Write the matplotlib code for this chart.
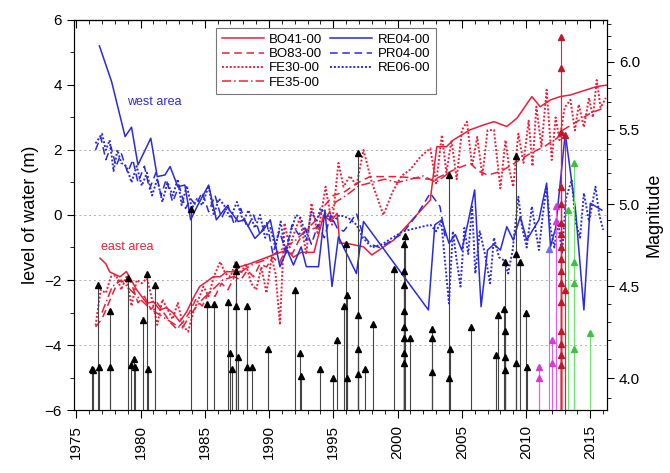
import matplotlib
matplotlib.use("Agg")
import matplotlib.pyplot as plt
from matplotlib.ticker import MultipleLocator, FixedLocator, NullFormatter, FixedFormatter
import numpy as np

plt.rcParams['font.family'] = ['Liberation Sans', 'DejaVu Sans']

RED = '#e8203c'
BLUE = '#2b2bd9'

# ---------------- water level series ----------------
bo41_years = [1976.85, 1977.3, 1977.6, 1978.4, 1978.9, 1979.7, 1980.5, 1981.0, 1981.5, 1982.0, 1982.5,
              1983.05, 1983.6, 1984.1, 1984.6, 1985.15, 1985.65, 1986.2, 1986.7, 1987.2, 1987.75, 1988.5,
              1989.3, 1990.3, 1991.4, 1991.9, 1992.5, 1993.5, 1994.25, 1994.8, 1995.3, 1995.5, 1996.05,
              1997.35, 1998.0, 1999.7, 2002.55, 2003.05, 2003.8, 2004.35, 2005.65, 2006.7, 2007.5, 2008.5,
              2009.3, 2010.45, 2011.1, 2011.9, 2012.65, 2013.45, 2015.5, 2016.4]
bo41_vals = [-1.33, -1.5, -1.75, -1.9, -1.74, -2.3, -2.72, -2.66, -2.92, -2.85, -3.0,
             -3.28, -2.97, -2.56, -2.2, -2.05, -1.9, -1.9, -1.74, -1.75, -1.59, -1.5,
             -1.38, -1.23, -1.08, -1.3, -1.15, -1.15, 0.0, -0.2, 0.05, -0.87, -0.87,
             -0.98, -1.23, -0.77, 0.46, 2.1, 2.1, 2.31, 2.62, 2.77, 2.87, 2.72,
             2.98, 3.64, 3.33, 3.54, 3.64, 3.69, 3.95, 4.0]

bo83_years = [1976.5, 1977.0, 1977.9, 1978.3, 1978.7, 1979.2, 1979.8, 1980.3, 1980.8, 1981.3, 1981.8,
              1982.3, 1982.8, 1983.3, 1983.8, 1984.3, 1984.8, 1985.3, 1985.8, 1986.3, 1986.8, 1987.3,
              1987.8, 1988.3, 1988.8, 1989.3, 1989.8, 1990.3, 1990.8, 1991.3, 1991.8, 1992.3, 1992.8,
              1993.3, 1993.8, 1994.35, 1995.0, 1995.9, 1996.8, 1997.85, 1999.9, 2001.75, 2002.8, 2004.35,
              2005.65, 2006.3, 2007.0, 2008.0, 2009.3, 2010.35, 2011.4, 2012.4, 2012.9, 2013.95, 2015.0,
              2016.0]
bo83_vals = [-3.44, -3.2, -2.36, -2.0, -2.1, -2.0, -2.7, -2.5, -2.9, -2.7, -3.0,
             -3.3, -3.5, -3.3, -3.0, -2.6, -2.8, -2.4, -2.5, -2.1, -2.3, -1.9,
             -2.0, -1.7, -1.9, -1.5, -1.6, -1.3, -1.5, -1.0, -1.2, -0.8, -0.5,
             -0.3, -0.1, 0.3, 0.6, 0.72, 0.97, 1.18, 1.18, 1.13, 1.08, 1.38,
             1.59, 1.35, 1.23, 1.33, 1.64, 1.9, 2.1, 2.36, 2.62, 2.87, 3.13,
             3.28]

fe30_years = [1976.5, 1976.9, 1977.3, 1977.7, 1978.1, 1978.5, 1978.9, 1979.3, 1979.7, 1980.1, 1980.5,
              1980.9, 1981.3, 1981.7, 1982.1, 1982.5, 1982.9, 1983.3, 1983.7, 1984.1, 1984.5, 1984.9,
              1985.3, 1985.7, 1986.2, 1986.6, 1987.0, 1987.4, 1987.8, 1988.2, 1988.6, 1989.0, 1989.4,
              1989.8, 1990.2, 1990.5, 1990.85, 1991.2, 1991.6, 1992.0, 1992.4, 1992.9, 1993.3, 1993.8,
              1994.4, 1994.9, 1995.4, 1995.8, 1996.3, 1996.8, 1997.35, 1998.0, 1998.9, 1999.6, 2000.3,
              2001.0, 2001.8, 2002.55, 2003.0, 2003.45, 2003.8, 2004.2, 2004.6, 2005.0, 2005.4, 2005.8,
              2006.2, 2006.6, 2007.0, 2007.5, 2008.0, 2008.4, 2008.7, 2009.0, 2009.4, 2009.8, 2010.2,
              2010.5, 2010.8, 2011.2, 2011.6, 2012.0, 2012.3, 2012.6, 2013.0, 2013.45, 2013.8, 2014.1,
              2014.5, 2014.9, 2015.2, 2015.5, 2015.8, 2016.2]
fe30_vals = [-3.4, -2.3, -2.4, -1.9, -1.85, -2.3, -1.9, -2.8, -2.0, -2.1, -1.95,
             -2.6, -3.38, -2.6, -2.9, -3.2, -2.7, -3.4, -3.59, -3.0, -2.6, -2.2,
             -2.5, -1.9, -1.44, -1.8, -1.9, -1.44, -1.8, -1.5, -2.1, -2.3, -1.6,
             -2.4, -1.3, -1.8, -3.38, -0.25, -1.0, -0.5, -0.1, -1.2, 0.36, -0.6,
             0.87, -0.3, 1.6, 0.87, 1.2, 0.9, 2.0, 1.0, 0.0, 0.7, 1.2,
             1.4, 1.8, 2.05, 0.97, 2.46, 1.3, 2.3, 1.1, 2.6, 2.87, 1.5,
             2.4, 1.2, 2.6, 2.62, 0.82, 2.3, 1.4, 0.87, 2.5, 1.6, 2.9,
             1.5, 3.33, 2.1, 3.85, 1.69, 3.0, 2.3, 3.3, 3.54, 2.6, 3.4,
             2.7, 3.6, 3.0, 4.15, 3.3, 3.6]

fe35_years = [1977.0, 1977.8, 1978.5, 1979.2, 1980.0, 1980.8, 1981.6, 1982.4, 1983.2, 1984.0, 1984.8,
              1985.6, 1986.4, 1987.2, 1988.0, 1988.8, 1989.6, 1990.4, 1991.2, 1992.0, 1992.8, 1993.6,
              1994.4, 1995.2, 1996.0, 1997.0, 1998.0, 1999.0, 2000.0, 2001.0, 2002.0, 2003.0, 2004.0]
fe35_vals = [-3.0, -2.2, -2.0, -2.3, -2.6, -2.9, -3.1, -3.3, -3.5, -3.0, -2.6,
             -2.3, -2.0, -1.9, -1.7, -1.5, -1.4, -1.2, -1.0, -0.8, -0.5, -0.4,
             -0.1, 0.4, 0.6, 0.9, 1.0, 1.1, 1.0, 1.1, 1.2, 1.0, 1.3]

re04_years = [1976.8, 1977.75, 1978.8, 1979.3, 1979.8, 1980.8, 1981.3, 1981.9, 1982.3, 1982.9, 1983.45,
              1983.9, 1984.4, 1985.3, 1985.9, 1986.7, 1987.6, 1988.1, 1988.9, 1989.55, 1990.1, 1990.85,
              1991.4, 1991.9, 1992.5, 1992.9, 1993.85, 1994.35, 1994.9, 1995.4, 1996.8, 1997.35, 2002.4,
              2002.9, 2003.45, 2004.0, 2004.5, 2005.0, 2005.5, 2006.0, 2006.5, 2007.0, 2007.5, 2008.0,
              2008.5, 2009.0, 2009.55, 2010.05, 2011.0, 2011.6, 2011.9, 2012.3, 2013.05, 2013.85, 2014.5,
              2015.0, 2015.9]
re04_vals = [5.2, 4.1, 2.41, 2.7, 1.54, 2.36, 1.18, 1.23, 1.49, 0.87, 0.92,
             -0.15, 0.26, 0.92, -0.15, 0.26, -0.2, -0.15, -0.72, -0.46, -0.15, -1.59,
             -1.08, -1.54, -0.98, -1.59, -1.59, 0.15, -2.2, -0.67, -1.8, -0.2, -2.92,
             -0.3, -0.15, -0.87, -0.6, -1.08, -0.2, 0.77, -2.82, -1.08, -0.9, -1.08,
             -0.36, -0.77, -0.05, -0.77, -0.15, 0.98, -0.98, -0.4, 2.51, 0.15, -2.92,
             0.36, 0.15]

pr04_years = [1976.5, 1976.9, 1977.3, 1977.7, 1978.1, 1978.5, 1979.0, 1979.4, 1979.8, 1980.3, 1980.7,
              1981.2, 1981.6, 1982.0, 1982.5, 1983.0, 1983.5, 1983.9, 1984.3, 1984.8, 1985.3, 1985.8,
              1986.3, 1986.8, 1987.3, 1987.8, 1988.3, 1988.8, 1989.3, 1989.8, 1990.3, 1990.8, 1991.3,
              1991.8, 1992.3, 1992.8, 1993.3, 1993.8, 1994.3, 1994.8, 1995.3, 1995.8, 1996.2, 1996.8,
              1997.3, 1997.9, 1998.6, 1999.5, 2000.4, 2001.5, 2002.55, 2003.3, 2003.7]
pr04_vals = [2.0, 2.4, 1.7, 2.1, 1.5, 1.9, 1.3, 1.7, 1.0, 1.5, 0.8,
             1.3, 0.6, 1.1, 0.4, 0.9, 0.2, 0.5, 0.3, 0.7, 0.1, 0.6,
             -0.1, 0.3, -0.3, 0.2, -0.4, 0.0, -0.6, -0.2, -1.2, -0.5, -1.1,
             -0.3, -0.6, -0.4, -0.9, -0.3, -0.7, 0.0, -0.4, -0.5, -0.3, 0.05,
             -0.6, -0.9, -1.0, -0.8, -0.56, 0.0, 0.67, 0.26, -0.67]

re06_years = [1976.5, 1977.0, 1977.3, 1977.6, 1977.9, 1978.2, 1978.5, 1978.9, 1979.3, 1979.7, 1980.1,
              1980.5, 1980.9, 1981.3, 1981.7, 1982.1, 1982.5, 1982.9, 1983.2, 1983.6, 1984.0, 1984.4,
              1984.8, 1985.3, 1985.7, 1986.1, 1986.5, 1987.0, 1987.5, 1988.0, 1988.4, 1988.9, 1989.3,
              1989.7, 1990.1, 1990.5, 1990.9, 1991.3, 1991.7, 1992.1, 1992.5, 1992.9, 1993.3, 1993.7,
              1994.0, 1994.5, 1995.0, 1995.5, 1996.2, 1996.8, 1997.3, 1998.0, 1998.8, 1999.6, 2000.45,
              2001.5, 2002.55, 2003.0, 2003.4, 2004.0, 2004.3, 2004.6, 2004.9, 2005.2, 2005.5, 2005.8,
              2006.05, 2006.4, 2006.8, 2007.2, 2007.5, 2007.9, 2008.3, 2008.6, 2008.95, 2009.4, 2009.7,
              2010.05, 2010.45, 2010.8, 2011.0, 2011.3, 2011.6, 2011.9, 2012.2, 2012.5, 2012.8, 2013.1,
              2013.55, 2013.85, 2014.2, 2014.5, 2014.9, 2015.4, 2015.7, 2016.0]
re06_vals = [2.2, 2.5, 2.0, 2.3, 1.35, 2.0, 1.6, 1.5, 1.0, 1.5, 0.9,
             1.3, 0.6, 1.1, 0.4, 1.0, 0.6, 1.1, 0.3, 0.9, 0.2, 0.5,
             0.3, 0.9, 0.0, 0.5, 0.3, -0.1, 0.4, -0.2, 0.15, -0.4, 0.0,
             -0.7, -0.4, -1.0, -0.2, -1.2, -0.5, 0.0, -0.1, -0.8, 0.1, -0.2,
             0.2, 0.0, -0.2, 0.0, -0.1, -0.3, -0.7, -1.0, -0.9, -0.7, -0.5,
             -0.4, -0.3, -0.5, -0.2, -2.72, -0.5, -1.4, -2.2, -0.4, -1.2, 0.26,
             -1.8, -0.5, -1.2, -2.1, -0.7, -1.3, -1.4, -1.8, -1.1, 0.56, -0.4,
             -1.0, 0.26, -0.6, -1.08, 0.0, 0.87, -0.4, -1.0, -0.2, -1.2, 0.5,
             1.08, -0.2, -0.7, 0.67, -0.2, 0.87, 0.0, -0.46]

# ---------------- earthquakes (year, magnitude) ----------------
eq_black_years = [1976.2, 1976.3, 1976.7, 1976.75, 1977.6, 1977.6, 1979.0, 1979.25, 1979.5, 1979.55,
                  1980.2, 1980.5, 1980.55, 1981.1, 1983.9, 1985.15, 1985.7, 1986.8, 1987.0, 1987.1,
                  1987.4, 1987.4, 1987.4, 1987.6, 1988.3, 1988.25, 1988.7, 1989.9, 1992.0, 1992.4,
                  1992.5, 1994.0, 1994.95, 1995.3, 1995.8, 1996.0, 1996.1, 1996.1, 1996.95, 1996.95,
                  1996.95, 1996.95, 1997.5, 1998.1, 1999.7, 2000.5, 2000.5, 2000.5, 2000.5, 2000.5,
                  2000.5, 2000.5, 2000.5, 2000.6, 2000.95, 2002.7, 2002.7, 2002.7, 2004.0, 2004.1,
                  2004.0, 2005.7, 2007.65, 2007.8, 2008.25, 2008.4, 2008.4, 2008.4, 2008.4, 2009.2,
                  2009.2, 2009.2, 2009.55, 2010.0, 2010.05]
eq_black_mags = [4.05, 4.04, 4.51, 4.06, 4.36, 4.06, 4.55, 4.07, 4.10, 4.06,
                 4.31, 4.57, 4.05, 4.51, 4.97, 4.40, 4.40, 4.41, 4.13, 4.05,
                 4.63, 4.59, 4.39, 4.11, 4.39, 4.06, 4.06, 4.15, 4.48, 4.13,
                 4.01, 4.05, 4.00, 4.20, 4.39, 4.75, 4.45, 4.00, 5.34, 4.34,
                 4.15, 4.02, 4.05, 4.29, 4.60, 4.75, 4.59, 4.51, 4.36, 4.27,
                 4.21, 4.13, 4.08, 4.80, 4.21, 4.26, 4.21, 4.03, 5.19, 4.15,
                 4.00, 4.27, 4.12, 4.34, 4.37, 4.64, 4.25, 4.11, 4.04, 5.32,
                 4.69, 4.08, 4.64, 4.35, 4.06]
eq_magenta_years = [2011.0, 2011.0, 2012.0, 2012.0, 2012.35, 2012.35]
eq_magenta_mags = [4.06, 4.00, 4.20, 4.08, 4.99, 4.89]
eq_blue_years = [2011.8]
eq_blue_mags = [4.72]
eq_red_years = [2012.7] * 16 + [2013.05, 2013.05]
eq_red_mags = [6.19, 5.95, 5.48, 5.11, 5.00, 4.88, 4.81, 4.73, 4.66, 4.59, 4.52, 4.41, 4.25, 4.18,
               4.12, 4.07, 5.46, 4.48]
eq_green_years = [2013.3, 2013.75, 2013.75, 2013.75, 2013.75, 2014.95]
eq_green_mags = [4.96, 5.27, 4.64, 4.52, 4.15, 4.24]

x_ticks = [1975, 1980, 1985, 1990, 1995, 2000, 2005, 2010, 2015]
y_ticks = [-6, -4, -2, 0, 2, 4, 6]
mag_ticks = [4.0, 4.5, 5.0, 5.5, 6.0]

# ---------------- figure ----------------
fig = plt.figure(figsize=(6.7, 4.73), dpi=100)
ax = fig.add_axes([0.110, 0.133, 0.796, 0.825])

XMIN, XMAX = 1974.8, 2016.3
MAG_LO, MAG_HI = 3.84, 6.33

for g in [2, 0, -2, -4]:
    ax.axhline(g, color='#b0b0b0', lw=0.7, ls=(0, (2, 3)), zorder=0)

lw = 1.1
l1, = ax.plot(bo41_years, bo41_vals, color=RED, lw=lw, ls='-', label='BO41-00')
l2, = ax.plot(bo83_years, bo83_vals, color=RED, lw=lw, ls=(0, (5, 3)), label='BO83-00')
l3, = ax.plot(fe30_years, fe30_vals, color=RED, lw=1.4, ls=(0, (1, 1)), label='FE30-00')
l4, = ax.plot(fe35_years, fe35_vals, color=RED, lw=lw, ls=(0, (6, 2, 1, 2)), label='FE35-00')
l5, = ax.plot(re04_years, re04_vals, color=BLUE, lw=lw, ls='-', label='RE04-00')
l6, = ax.plot(pr04_years, pr04_vals, color=BLUE, lw=lw, ls=(0, (5, 3)), label='PR04-00')
l7, = ax.plot(re06_years, re06_vals, color=BLUE, lw=1.4, ls=(0, (1, 1)), label='RE06-00')

ax.set_xlim(XMIN, XMAX)
ax.set_ylim(-6, 6)
ax.set_yticks(y_ticks)
ax.yaxis.set_minor_locator(MultipleLocator(1))
ax.set_xticks(x_ticks)
ax.set_xticklabels([str(t) for t in x_ticks], rotation=90, fontsize=11)
ax.xaxis.set_minor_locator(MultipleLocator(1))
ax.tick_params(axis='y', which='major', direction='out', length=5, labelsize=11)
ax.tick_params(axis='y', which='minor', direction='out', length=3)
ax.tick_params(axis='x', which='major', direction='out', length=6, pad=5)
ax.tick_params(axis='x', which='minor', direction='out', length=3)
ax.set_ylabel('level of water (m)', fontsize=13)

top = ax.secondary_xaxis('top')
top.set_xticks(x_ticks)
top.xaxis.set_minor_locator(MultipleLocator(1))
top.tick_params(which='major', direction='in', length=6, labeltop=False)
top.tick_params(which='minor', direction='in', length=3)
top.set_xticklabels([])

ax.text(1981.1, 3.48, 'west area', color=BLUE, fontsize=9, ha='center', va='center')
ax.text(1979.0, -0.98, 'east area', color=RED, fontsize=9, ha='center', va='center')

leg = ax.legend(handles=[l1, l2, l3, l4, l5, l6, l7], ncol=2, loc='upper left',
                bbox_to_anchor=(0.255, 0.995), fontsize=9.5, frameon=True, fancybox=False,
                edgecolor='#555555', handlelength=3.2, columnspacing=0.6, labelspacing=0.15,
                borderpad=0.4, handletextpad=0.4)
leg.get_frame().set_linewidth(0.8)

# ---------------- magnitude axis ----------------
ax2 = ax.twinx()
ax2.set_yscale('log')
ax2.set_ylim(MAG_LO, MAG_HI)

def stems(years, mags, color, lcolor):
    ax2.vlines(years, MAG_LO, mags, colors=lcolor, lw=0.8, zorder=3)
    ax2.plot(years, mags, ls='none', marker='^', ms=4.5, color=color, zorder=4)

stems(eq_black_years, eq_black_mags, 'black', '#444444')
stems(eq_magenta_years, eq_magenta_mags, '#d63ad6', '#e060e0')
stems(eq_blue_years, eq_blue_mags, '#7070f0', '#8c8cf5')
stems(eq_red_years, eq_red_mags, '#c0182a', '#e8203c')
stems(eq_green_years, eq_green_mags, '#40c040', '#70e070')

ax2.yaxis.set_major_locator(FixedLocator(mag_ticks))
ax2.yaxis.set_major_formatter(FixedFormatter(['%.1f' % m for m in mag_ticks]))
ax2.yaxis.set_minor_locator(FixedLocator([round(v, 1) for v in np.arange(3.9, 6.35, 0.1)]))
ax2.yaxis.set_minor_formatter(NullFormatter())
ax2.tick_params(axis='y', which='major', direction='out', length=5, labelsize=11)
ax2.tick_params(axis='y', which='minor', direction='out', length=3)
ax2.set_ylabel('Magnitude', fontsize=13)
ax2.set_xlim(XMIN, XMAX)

fig.savefig('out.png', dpi=100)
